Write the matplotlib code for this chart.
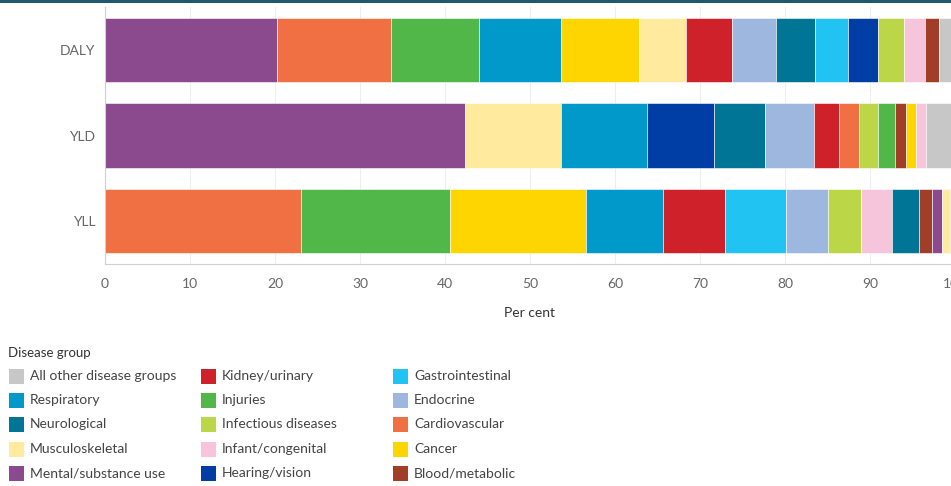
import matplotlib
matplotlib.use("Agg")
import matplotlib.pyplot as plt
from matplotlib.patches import Rectangle

# Disease groups in the order Tableau lists them (reverse alphabetical)
groups = [
    "All other disease groups", "Respiratory", "Neurological", "Musculoskeletal",
    "Mental/substance use", "Kidney/urinary", "Injuries", "Infectious diseases",
    "Infant/congenital", "Hearing/vision", "Gastrointestinal", "Endocrine",
    "Cardiovascular", "Cancer", "Blood/metabolic",
]
colors = [
    "#C7C7C7", "#0099C9", "#007595", "#FFEA9E",
    "#8A4A8D", "#CF2129", "#51B749", "#BBD647",
    "#F6C4DB", "#003DA5", "#21C3F3", "#9DB7DE",
    "#F07043", "#FFD500", "#A03E28",
]

measures = ["DALY", "YLD", "YLL"]
# per cent share of each measure, same order as groups
daly = [1.9, 9.6, 4.6, 5.6, 20.2, 5.4, 10.3, 3.0, 2.5, 3.6, 3.9, 5.1, 13.5, 9.2, 1.6]
yld = [3.4, 10.2, 6.0, 11.3, 42.3, 3.0, 2.0, 2.2, 1.1, 7.8, 0.0, 5.8, 2.3, 1.25, 1.3]
yll = [0.6, 9.0, 3.2, 1.0, 1.2, 7.3, 17.5, 3.9, 3.6, 0.0, 7.25, 4.9, 23.1, 16.0, 1.5]
values = [daly, yld, yll]

W, H = 951, 486
fig = plt.figure(figsize=(W / 100, H / 100), dpi=100)
plt.rcParams["font.family"] = ["Lato", "DejaVu Sans"]

# dark header strip
fig.patches.append(Rectangle((0, 1 - 3 / H), 1, 3 / H, transform=fig.transFigure,
                             facecolor="#1D5A6C", edgecolor="none"))

ax = fig.add_axes([105 / W, (H - 264) / H, 850 / W, 257 / H])

for i, vals in enumerate(values):
    # each bar sorted largest first, "All other" always last
    order = sorted(range(1, len(groups)), key=lambda k: -vals[k]) + [0]
    left = 0.0
    for k in order:
        if vals[k] <= 0:
            continue
        ax.barh(i, vals[k], left=left, height=0.75, color=colors[k],
                edgecolor="white", linewidth=0.4)
        left += vals[k]

ax.set_ylim(2.5, -0.5)
ax.set_xlim(0, 100)
ax.set_yticks(range(len(measures)))
ax.set_yticklabels(measures)
ax.set_xticks(range(0, 101, 10))
ax.xaxis.grid(True, color="#EEEEEE", linewidth=0.8)
ax.set_axisbelow(True)
for s in ["top", "right"]:
    ax.spines[s].set_visible(False)
for s in ["left", "bottom"]:
    ax.spines[s].set_color("#D0D0D0")
ax.tick_params(axis="x", length=0, pad=10, labelsize=10, labelcolor="#666666")
ax.tick_params(axis="y", length=0, pad=7, labelsize=10, labelcolor="#666666")
ax.set_xlabel("Per cent", fontsize=10, color="#333333", labelpad=12)

# legend drawn in figure pixels
def fx(px):
    return px / W

def fy(py):
    return 1 - py / H

fig.text(fx(8), fy(353), "Disease group", fontsize=9.5, color="#333333",
         ha="left", va="center")
col_x = [8, 200, 392]
row_y = [376, 400, 424, 449, 473]
for n, (g, c) in enumerate(zip(groups, colors)):
    col, row = divmod(n, 5)
    x0, y0 = col_x[col], row_y[row]
    fig.patches.append(Rectangle((fx(x0 + 1), fy(y0 + 7.5)), 15 / W, 15 / H,
                                 transform=fig.transFigure, facecolor=c,
                                 edgecolor="none"))
    fig.text(fx(x0 + 22), fy(y0), g, fontsize=10, color="#444444",
             ha="left", va="center")

fig.savefig("out.png", dpi=100, facecolor="white")
